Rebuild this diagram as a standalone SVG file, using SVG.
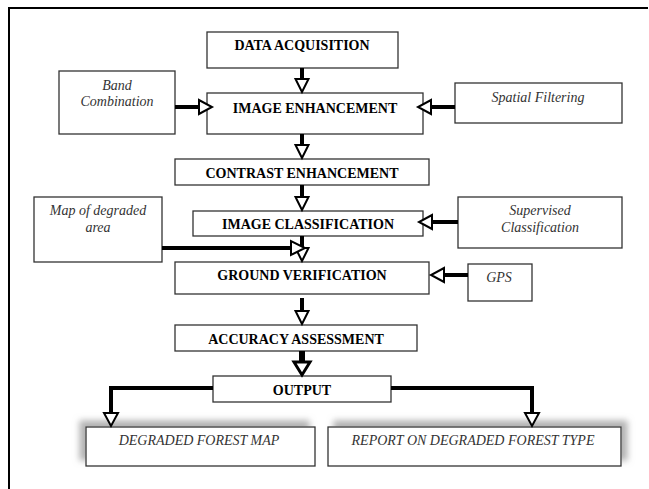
<svg xmlns="http://www.w3.org/2000/svg" width="649" height="489" viewBox="0 0 649 489">
<style>
.box{fill:#fff;stroke:#333;stroke-width:1.3}
.b{font-family:'Liberation Serif','Times New Roman','DejaVu Serif',serif;font-weight:bold;font-size:14px;fill:#000;text-anchor:middle}
.i{font-family:'Liberation Serif','Times New Roman','DejaVu Serif',serif;font-style:italic;font-size:14px;fill:#333;text-anchor:middle}
.ln{fill:none;stroke:#000;stroke-width:4}
.hd{fill:#fff;stroke:#000;stroke-width:2;stroke-linejoin:miter}
</style>
<defs>
<filter id="shL" x="-10%" y="-40%" width="120%" height="180%">
<feOffset in="SourceAlpha" dx="-6" dy="-6" result="o"/>
<feGaussianBlur in="o" stdDeviation="3" result="b"/>
<feColorMatrix in="b" type="matrix" values="0 0 0 0 0.35 0 0 0 0 0.35 0 0 0 0 0.35 0 0 0 0.8 0" result="c"/>
<feMerge><feMergeNode in="c"/><feMergeNode in="SourceGraphic"/></feMerge>
</filter>
<filter id="shR" x="-10%" y="-40%" width="120%" height="180%">
<feOffset in="SourceAlpha" dx="6" dy="-6" result="o"/>
<feGaussianBlur in="o" stdDeviation="3" result="b"/>
<feColorMatrix in="b" type="matrix" values="0 0 0 0 0.35 0 0 0 0 0.35 0 0 0 0 0.35 0 0 0 0.8 0" result="c"/>
<feMerge><feMergeNode in="c"/><feMergeNode in="SourceGraphic"/></feMerge>
</filter>
</defs>
<rect width="649" height="489" fill="#fff"/>
<path d="M9 489 V8 H648" fill="none" stroke="#000" stroke-width="2"/>

<g id="data-acquisition"><rect class="box" x="207" y="32" width="191" height="36"/><text class="b" x="302" y="50">DATA ACQUISITION</text></g>
<g id="band-combination"><rect class="box" x="59" y="71" width="116" height="63"/><text class="i" x="117" y="90">Band</text><text class="i" x="117" y="106">Combination</text></g>
<g id="image-enhancement"><rect class="box" x="207" y="93" width="216" height="41"/><text class="b" x="315" y="113">IMAGE ENHANCEMENT</text></g>
<g id="spatial-filtering"><rect class="box" x="455" y="83" width="167" height="40"/><text class="i" x="538" y="102">Spatial Filtering</text></g>
<g id="contrast-enhancement"><rect class="box" x="175" y="159" width="254" height="26"/><text class="b" x="302" y="178">CONTRAST ENHANCEMENT</text></g>
<g id="image-classification"><rect class="box" x="193" y="211" width="230" height="25"/><text class="b" x="308" y="229">IMAGE CLASSIFICATION</text></g>
<g id="map-degraded"><rect class="box" x="34" y="197" width="128" height="65"/><text class="i" x="98" y="215">Map of degraded</text><text class="i" x="98" y="232">area</text></g>
<g id="supervised-classification"><rect class="box" x="458" y="197" width="164" height="51"/><text class="i" x="540" y="215">Supervised</text><text class="i" x="540" y="232">Classification</text></g>
<g id="ground-verification"><rect class="box" x="175" y="262" width="254" height="32"/><text class="b" x="302" y="280">GROUND VERIFICATION</text></g>
<g id="gps"><rect class="box" x="468" y="264" width="64" height="37"/><text class="i" x="499" y="282">GPS</text></g>
<g id="accuracy-assessment"><rect class="box" x="175" y="325" width="242" height="26"/><text class="b" x="296" y="344">ACCURACY ASSESSMENT</text></g>
<g id="output"><rect class="box" x="213" y="376" width="178" height="26"/><text class="b" x="302" y="395">OUTPUT</text></g>
<g id="degraded-forest-map"><rect class="box" x="86" y="427" width="229" height="39" filter="url(#shL)"/><text class="i" x="199" y="445">DEGRADED FOREST MAP</text></g>
<g id="report"><rect class="box" x="328" y="427" width="293" height="39" filter="url(#shR)"/><text class="i" x="473" y="445">REPORT ON DEGRADED FOREST TYPE</text></g>

<g id="connectors">
<path class="ln" d="M302 68 V79"/><polygon class="hd" points="295.5,79 308.5,79 302,92"/>
<path class="ln" d="M302 134 V145"/><polygon class="hd" points="295.5,145 308.5,145 302,158"/>
<path class="ln" d="M302 185 V197"/><polygon class="hd" points="295.5,197 308.5,197 302,210"/>
<path class="ln" d="M302 236 V248"/><polygon class="hd" points="295.5,248 308.5,248 302,261"/>
<path class="ln" d="M302 298 V311"/><polygon class="hd" points="295.5,311 308.5,311 302,324"/>
<path class="ln" d="M302 351 V362" style="stroke-width:6"/><polygon class="hd" points="294,362 310,362 302,375" style="stroke-width:3"/>
<path class="ln" d="M175 107 H199"/><polygon class="hd" points="199,100 199,114 212,107"/>
<path class="ln" d="M455 107 H431"/><polygon class="hd" points="431,100 431,114 418,107"/>
<path class="ln" d="M458 222 H432"/><polygon class="hd" points="432,215 432,229 419,222"/>
<path class="ln" d="M162 248 H291"/><polygon class="hd" points="291,241 291,255 305,248"/>
<path class="ln" d="M468 275 H444"/><polygon class="hd" points="444,268 444,282 431,275"/>
<path class="ln" d="M213 388 H111 V413"/><polygon class="hd" points="104,413 118,413 111,426"/>
<path class="ln" d="M391 388 H532 V413"/><polygon class="hd" points="525,413 539,413 532,426"/>
</g>
</svg>
